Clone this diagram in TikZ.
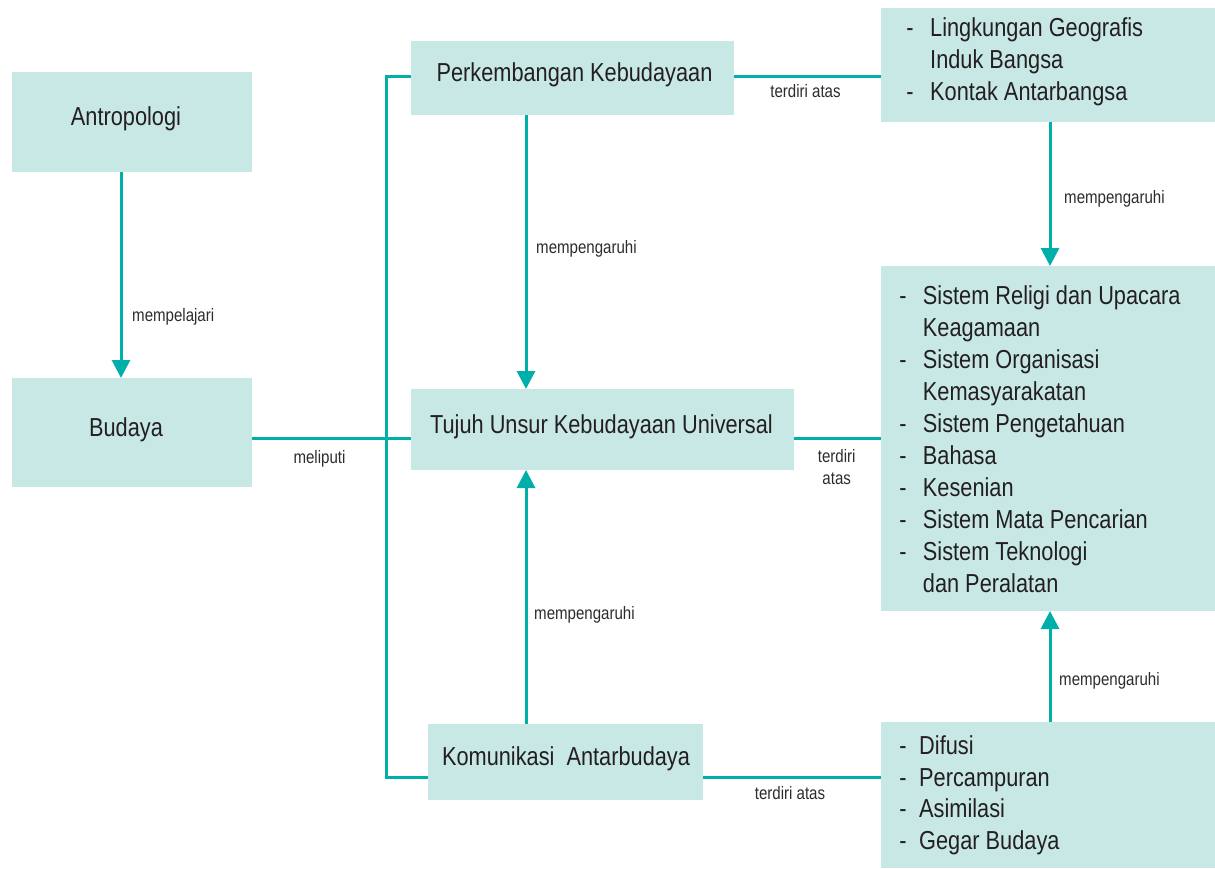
\documentclass[tikz,border=0pt]{standalone}
\usepackage{fontspec}
\setmainfont[FakeStretch=0.837]{Liberation Sans}
\usetikzlibrary{arrows.meta,calc}
\definecolor{boxfill}{HTML}{C8E8E6}
\definecolor{teal}{HTML}{00AFA9}
\definecolor{ink}{HTML}{231F20}
\definecolor{lblink}{HTML}{2E2B2C}
\tikzset{
  box/.style={fill=boxfill, draw=none, inner sep=0pt, outer sep=0pt},
  big/.style={inner sep=0pt, text=ink, font=\fontsize{26}{32}\selectfont},
  lbl/.style={inner sep=0pt, text=lblink, font=\fontsize{18}{22}\selectfont},
  line/.style={draw=teal, line width=3pt},
  arr/.style={line, -{Triangle[width=18pt,length=18pt]}},
}
\begin{document}
\begin{tikzpicture}[x=1pt,y=-1pt]
\useasboundingbox (0,0) rectangle (1215,869);
% boxes
\node[box, minimum width=240pt, minimum height=100pt] (antro) at (132,122) {};
\node[box, minimum width=240pt, minimum height=109pt] (budaya) at (132,432.5) {};
\node[box, minimum width=323pt, minimum height=74pt] (perk) at (572.5,78) {};
\node[box, minimum width=383pt, minimum height=81pt] (tujuh) at (602.5,429.5) {};
\node[box, minimum width=275pt, minimum height=76pt] (kom) at (565.5,762) {};
\node[box, minimum width=334pt, minimum height=114pt] (geo) at (1048,65) {};
\node[box, minimum width=334pt, minimum height=345pt] (unsur) at (1048,438.5) {};
\node[box, minimum width=334pt, minimum height=146pt] (proses) at (1048,795) {};
% helper coordinates
\coordinate (jtop) at (386,76.7);
\coordinate (jmid) at (386,438.7);
\coordinate (jbot) at (386,777);
\coordinate (xl) at (121,0);
\coordinate (xm) at (526,0);
\coordinate (xr) at (1050,0);
% connectors
\draw[arr] (antro.south -| xl) -- (budaya.north -| xl);
\draw[line] (budaya.east |- jmid) -- (tujuh.west |- jmid);
\draw[line] (perk.west |- jtop) -- (jtop) -- (jbot) -- (kom.west |- jbot);
\draw[arr] (perk.south -| xm) -- (tujuh.north -| xm);
\draw[arr] (kom.north -| xm) -- (tujuh.south -| xm);
\draw[line] (perk.east |- jtop) -- (geo.west |- jtop);
\draw[line] (tujuh.east |- unsur.west) -- (unsur.west);
\draw[line] (kom.east |- jbot) -- (proses.west |- jbot);
\draw[arr] (geo.south -| xr) -- (unsur.north -| xr);
\draw[arr] (proses.north -| xr) -- (unsur.south -| xr);
% box texts
\node[big, anchor=base] (tantro) at (126,126) {Antropologi};
\node[big, anchor=base] (tbudaya) at (126,436) {Budaya};
\node[big, anchor=base] (tperk) at (574.5,82) {Perkembangan Kebudayaan};
\node[big, anchor=base] (ttujuh) at (601.5,433) {Tujuh Unsur Kebudayaan Universal};
\node[big, anchor=base] (tkom) at (566,765) {Komunikasi~~Antarbudaya};
% top-right list
\node[big, anchor=base] (gd1) at (910,37) {-};
\node[big, anchor=base west] (g1) at (930,37) {Lingkungan Geografis};
\node[big, anchor=base west] (g2) at (930,69) {Induk Bangsa};
\node[big, anchor=base] (gd2) at (910,101) {-};
\node[big, anchor=base west] (g3) at (930,101) {Kontak Antarbangsa};
% middle-right list
\node[big, anchor=base] (ud1) at (903,304) {-};
\node[big, anchor=base west] (u1) at (922.7,304) {Sistem Religi dan Upacara};
\node[big, anchor=base west] (u1b) at (922.7,336) {Keagamaan};
\node[big, anchor=base] (ud2) at (903,368) {-};
\node[big, anchor=base west] (u2) at (922.7,368) {Sistem Organisasi};
\node[big, anchor=base west] (u2b) at (922.7,400) {Kemasyarakatan};
\node[big, anchor=base] (ud3) at (903,432) {-};
\node[big, anchor=base west] (u3) at (922.7,432) {Sistem Pengetahuan};
\node[big, anchor=base] (ud4) at (903,464) {-};
\node[big, anchor=base west] (u4) at (922.7,464) {Bahasa};
\node[big, anchor=base] (ud5) at (903,496.5) {-};
\node[big, anchor=base west] (u5) at (922.7,496.5) {Kesenian};
\node[big, anchor=base] (ud6) at (903,528) {-};
\node[big, anchor=base west] (u6) at (922.7,528) {Sistem Mata Pencarian};
\node[big, anchor=base] (ud7) at (903,560) {-};
\node[big, anchor=base west] (u7) at (922.7,560) {Sistem Teknologi};
\node[big, anchor=base west] (u7b) at (922.7,592) {dan Peralatan};
% bottom-right list
\node[big, anchor=base] (pd1) at (903,754) {-};
\node[big, anchor=base west] (p1) at (919,754) {Difusi};
\node[big, anchor=base] (pd2) at (903,786) {-};
\node[big, anchor=base west] (p2) at (919,786) {Percampuran};
\node[big, anchor=base] (pd3) at (903,817) {-};
\node[big, anchor=base west] (p3) at (919,817) {Asimilasi};
\node[big, anchor=base] (pd4) at (903,849) {-};
\node[big, anchor=base west] (p4) at (919,849) {Gegar Budaya};
% connector labels
\node[lbl, anchor=base west] (l1) at (132,321) {mempelajari};
\node[lbl, anchor=base west] (l2) at (536,253) {mempengaruhi};
\node[lbl, anchor=base] (l3) at (319.5,463) {meliputi};
\node[lbl, anchor=base] (l4) at (805.5,98) {terdiri atas};
\node[lbl, anchor=base west] (l5) at (1064,204) {mempengaruhi};
\node[lbl, anchor=center, align=center] (l6) at (836.7,467) {terdiri\\atas};
\node[lbl, anchor=base] (l7) at (790,799) {terdiri atas};
\node[lbl, anchor=base west] (l8) at (534,619) {mempengaruhi};
\node[lbl, anchor=base west] (l9) at (1059,685) {mempengaruhi};
\end{tikzpicture}
\end{document}
